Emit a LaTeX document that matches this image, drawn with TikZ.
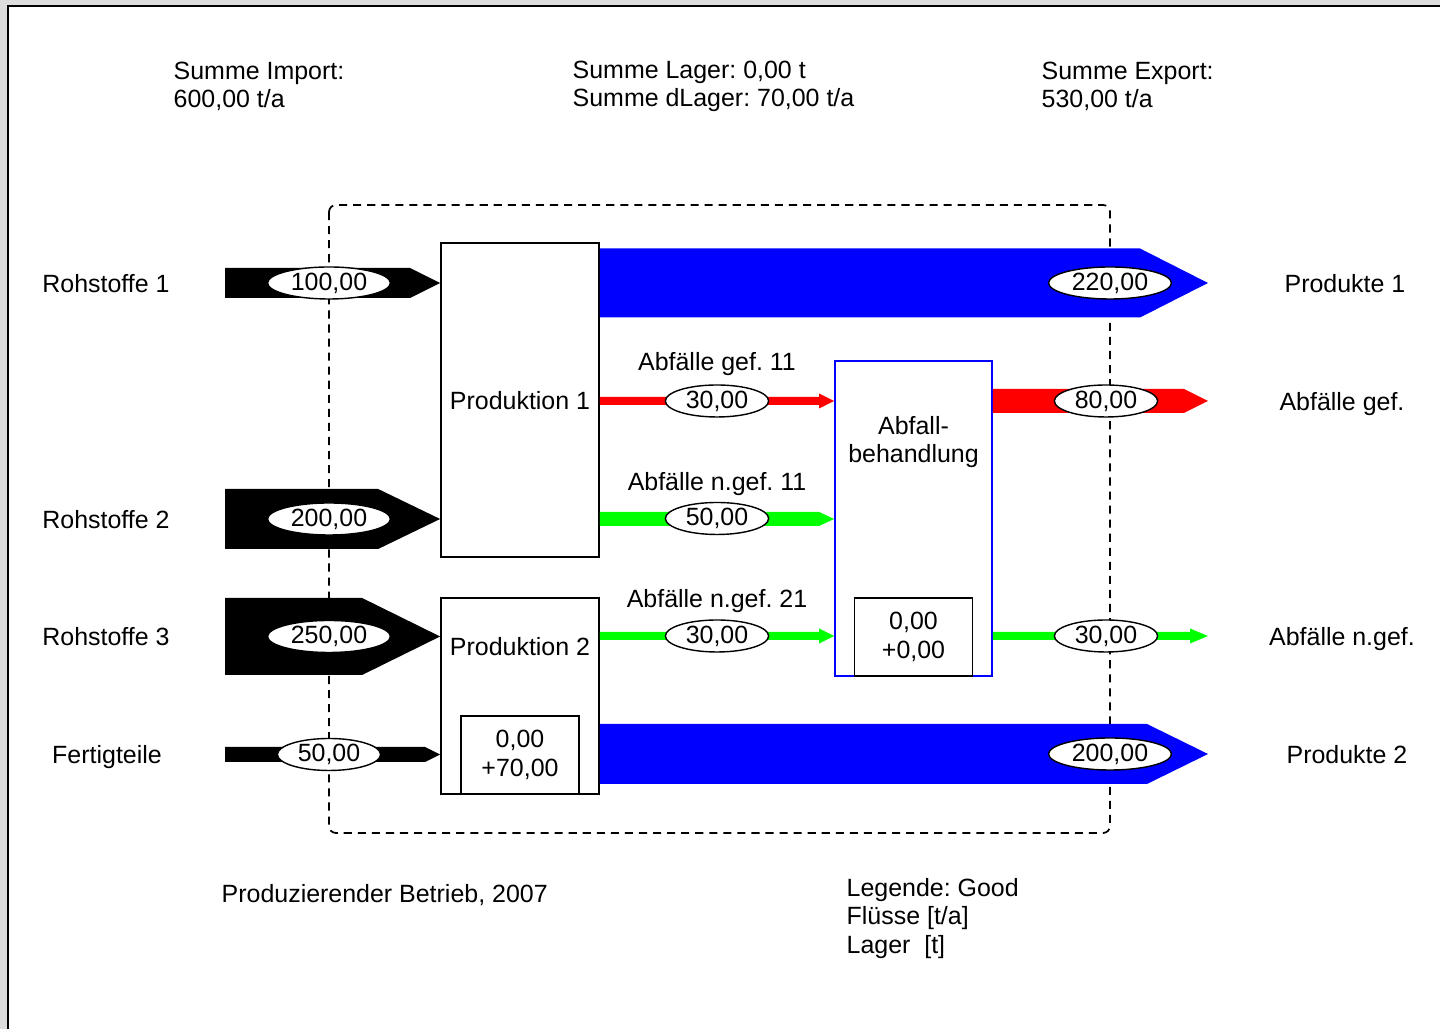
\documentclass[tikz,border=0pt]{standalone}
\usepackage{fontspec}
\setmainfont{Liberation Sans}
\usepackage{tikz}
\usetikzlibrary{arrows.meta,positioning,shapes.geometric,calc}
\usepackage{xcolor}
\frenchspacing

\definecolor{flowblue}{RGB}{0,0,255}
\definecolor{flowred}{RGB}{255,0,0}
\definecolor{flowgreen}{RGB}{0,255,0}
\definecolor{framegray}{RGB}{221,221,221}

% flow band: colour, start, tip, half width, head length, head half width
\newcommand{\flowarr}[6]{%
  \fill[#1] ($(#2)+(0,#4)$) -- ($(#3)+(-#5,#4)$) -- ($(#3)+(-#5,#6)$) -- (#3)
    -- ($(#3)+(-#5,-#6)$) -- ($(#3)+(-#5,-#4)$) -- ($(#2)+(0,-#4)$) -- cycle;}

\begin{document}
\begin{tikzpicture}[
  every node/.style={font=\fontsize{7.1}{8.1}\selectfont},
  proc/.style={draw, line width=0.5pt, fill=white, inner sep=0pt},
  stock/.style={draw, line width=0.5pt, fill=white, minimum width=1.18cm,
                minimum height=0.78cm, align=center, inner sep=0pt},
  val/.style={ellipse, draw, fill=white, line width=0.4pt, inner xsep=1.5pt,
              inner ysep=0pt, minimum height=0.32cm, minimum width=1.02cm},
  lbl/.style={inner sep=0pt, align=center},
  tag/.style={inner sep=0pt, text height=5.2pt, text depth=0pt},
  txt/.style={inner sep=0pt, align=left, anchor=west}
]
\useasboundingbox (0,0) rectangle (14.4,-10.29);

%% Window frame
\fill[framegray] (0,0) rectangle (14.4,-10.29);
\fill[white] (0.08,-0.06) rectangle (14.4,-10.29);
\draw[line width=0.6pt] (0.08,-10.29) -- (0.08,-0.06) -- (14.4,-0.06);

%% System boundary
\draw[line width=0.5pt, dash pattern=on 2.3pt off 1.7pt, rounded corners=2pt]
  (3.29,-2.05) rectangle (11.10,-8.33);

%% Processes
\node[proc, minimum width=1.58cm, minimum height=3.14cm] (p1) at (5.20,-4.00) {};
\node[tag] (p1txt) at (p1.center) {Produktion 1};
\node[proc, minimum width=1.58cm, minimum height=1.96cm] (p2) at (5.20,-6.96) {};
\node[tag] (p2txt) at ($(p2.north)+(0,-0.49)$) {Produktion 2};
\node[stock, anchor=south] (p2s) at (p2.south) {0,00\\+70,00};

\node[proc, draw=flowblue, minimum width=1.57cm, minimum height=3.15cm] (abf) at (9.135,-5.185) {};
\node[lbl] (abftxt) at ($(abf.north)+(0,-0.82)$) {Abfall-\\behandlung};
\node[stock, anchor=south] (abfs) at (abf.south) {0,00\\+0,00};

%% Flow ends
\coordinate (in1)  at (2.25,-2.83);
\coordinate (in2)  at (2.25,-5.19);
\coordinate (in3)  at (2.25,-6.365);
\coordinate (in4)  at (2.25,-7.545);
\coordinate (out1) at (12.08,-2.83);
\coordinate (out2) at (12.08,-4.01);
\coordinate (out3) at (12.08,-6.36);
\coordinate (out4) at (12.08,-7.54);

%% Flows
\flowarr{black}{in1}{p1.west |- in1}{0.15}{0.30}{0.15}
\flowarr{black}{in2}{p1.west |- in2}{0.30}{0.62}{0.30}
\flowarr{black}{in3}{p2.west |- in3}{0.385}{0.78}{0.385}
\flowarr{black}{in4}{p2.west |- in4}{0.075}{0.15}{0.075}

\flowarr{flowblue}{p1.east |- out1}{out1}{0.345}{0.68}{0.345}
\flowarr{flowblue}{p2.east |- out4}{out4}{0.30}{0.61}{0.30}

\flowarr{flowred}{p1.east |- out2}{abf.west |- out2}{0.04}{0.15}{0.075}
\flowarr{flowgreen}{p1.east |- in2}{abf.west |- in2}{0.07}{0.15}{0.07}
\flowarr{flowgreen}{p2.east |- out3}{abf.west |- out3}{0.04}{0.15}{0.075}

\flowarr{flowred}{abf.east |- out2}{out2}{0.12}{0.24}{0.12}
\flowarr{flowgreen}{abf.east |- out3}{out3}{0.04}{0.18}{0.075}

%% Values
\node[val] (v1)  at (3.29,-2.83)  {100,00};
\node[val] (v2)  at (3.29,-5.19)  {200,00};
\node[val] (v3)  at (3.29,-6.365) {250,00};
\node[val] (v4)  at (3.29,-7.545) {50,00};
\node[val] (v5)  at (11.10,-2.83) {220,00};
\node[val] (v6)  at (11.10,-7.54) {200,00};
\node[val] (v7)  at (7.17,-4.01)  {30,00};
\node[val] (v8)  at (7.17,-5.185) {50,00};
\node[val] (v9)  at (7.17,-6.36)  {30,00};
\node[val] (v10) at (11.06,-4.01) {80,00};
\node[val] (v11) at (11.06,-6.36) {30,00};

%% Flow names
\node[tag] (ag11)  at (7.17,-3.61) {Abfälle gef. 11};
\node[tag] (ang11) at (7.17,-4.81) {Abfälle n.gef. 11};
\node[tag] (ang21) at (7.17,-5.98) {Abfälle n.gef. 21};

%% Import / export
\node[tag] (rs1) at (1.06,-2.83)   {Rohstoffe 1};
\node[tag] (rs2) at (1.06,-5.19)   {Rohstoffe 2};
\node[tag] (rs3) at (1.06,-6.365)  {Rohstoffe 3};
\node[tag] (ft)  at (1.07,-7.545)  {Fertigteile};
\node[tag] (pd1) at (13.45,-2.83)  {Produkte 1};
\node[tag] (ag)  at (13.42,-4.01)  {Abfälle gef.};
\node[tag] (ang) at (13.42,-6.36)  {Abfälle n.gef.};
\node[tag] (pd2) at (13.47,-7.54)  {Produkte 2};

%% Sums and legend
\node[txt] (simp) at (1.73,-0.865)  {Summe Import:\\600,00 t/a};
\node[txt] (slag) at (5.72,-0.865)  {Summe Lager: 0,00 t\\Summe dLager: 70,00 t/a};
\node[txt] (sexp) at (10.41,-0.865) {Summe Export:\\530,00 t/a};
\node[txt, tag] (ttl) at (2.21,-8.93) {Produzierender Betrieb, 2007};
\node[txt] (leg)  at (8.46,-9.185) {Legende: Good\\Flüsse [t/a]\\Lager\ \ [t]};
\end{tikzpicture}
\end{document}
